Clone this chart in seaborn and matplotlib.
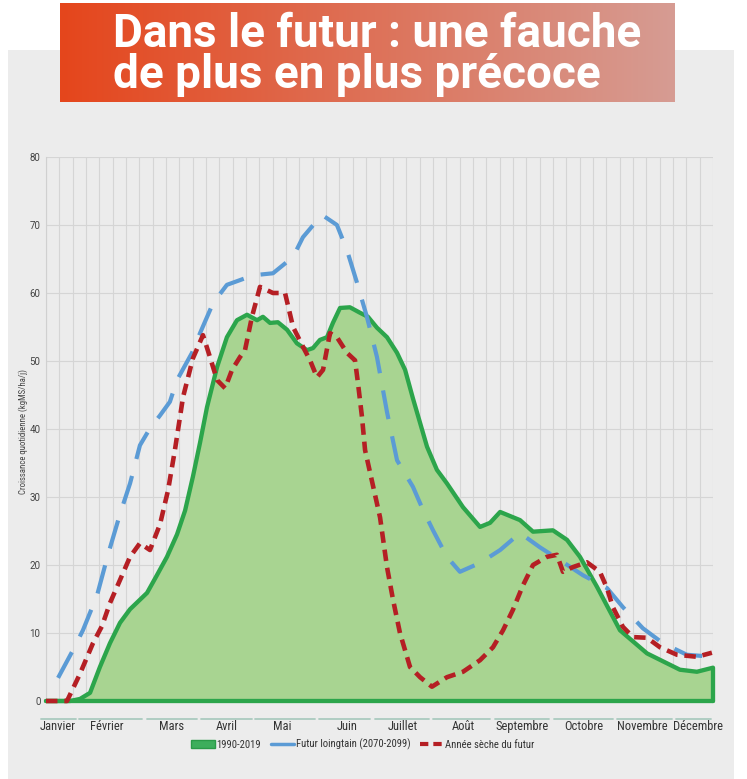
import numpy as np
import pandas as pd
import matplotlib
matplotlib.use("Agg")
import matplotlib.pyplot as plt
import matplotlib.transforms as mtransforms
from matplotlib import font_manager
from matplotlib.lines import Line2D
from matplotlib.patches import Patch, Rectangle
import seaborn as sns

# ---------------- data ----------------
days_1990 = [0, 13.1, 18.6, 24.1, 29.5, 35.0, 40.5, 46.0, 55.3, 60.7, 66.2, 71.7, 76.1, 80.4,
             84.3, 88.1, 93.6, 99.0, 104.5, 110.0, 115.5, 118.7, 122.6, 126.9, 131.9, 137.3,
             142.8, 146.1, 149.9, 153.8, 157.0, 160.9, 166.3, 171.8, 176.2, 181.1, 186.6,
             192.1, 196.5, 200.8, 208.5, 213.9, 219.4, 228.2, 237.5, 243.0, 248.5, 259.4,
             266.5, 277.4, 285.1, 292.2, 301.5, 314.1, 328.9, 346.9, 356.2, 365]
vals_1990 = [0, 0, 0.3, 1.2, 5.0, 8.5, 11.5, 13.5, 15.9, 18.5, 21.2, 24.5, 28, 33,
             38, 43.2, 49.1, 53.5, 56, 56.8, 56, 56.5, 55.6, 55.7, 54.6, 52.6,
             51.6, 51.9, 53.1, 53.5, 55.6, 57.8, 57.9, 57.1, 56.5, 54.9, 53.5,
             51.2, 48.7, 44.5, 37.4, 34, 32, 28.5, 25.6, 26.2, 27.8, 26.6,
             24.9, 25.1, 23.7, 21.2, 16.8, 10.4, 7, 4.6, 4.3, 4.9]

days_futur = [6.6, 14.8, 20.2, 27.9, 33.9, 40.5, 46.0, 51.4, 56.9, 62.4, 67.8, 71.7, 79.9,
              84.3, 91.4, 99.0, 106.2, 113.3, 124.2, 135.2, 140.6, 151.0, 159.2, 164.7,
              170.2, 175.6, 181.1, 186.6, 192.1, 200.8, 206.3, 211.8, 219.4, 226.5, 237.5,
              248.5, 259.4, 270.3, 281.3, 293.8, 307.0, 315.7, 326.6, 337.6, 350.7, 365]
vals_futur = [3.4, 7.5, 10.4, 15.5, 21.5, 27.5, 32, 37.6, 40.1, 42, 44, 47.2, 51.2,
              54.1, 58.5, 61.2, 61.9, 62.6, 62.9, 65.3, 68.2, 71.5, 70, 66.3,
              61.5, 56.5, 50.6, 42.5, 35.4, 31.5, 28.1, 25.1, 21.2, 19, 20.3,
              22.2, 24.7, 22.6, 20.7, 18.5, 16.6, 13.8, 10.7, 8.5, 6.8, 6.5]

days_seche = [0, 11.5, 18.6, 25.7, 30.6, 35.0, 40.5, 46.0, 51.4, 56.9, 62.4, 66.8, 70.6,
              75.0, 80.4, 85.9, 89.7, 93.6, 98.0, 101.8, 106.2, 108.9, 112.7, 117.1,
              124.2, 130.8, 135.2, 140.6, 144.5, 148.3, 151.6, 155.4, 159.2, 164.7,
              169.1, 170.7, 172.9, 174.6, 182.8, 186.6, 189.9, 193.7, 199.2, 204.7,
              211.2, 219.4, 228.2, 237.5, 244.6, 250.1, 255.5, 261.0, 266.5, 274.1,
              279.6, 282.9, 288.4, 296.0, 303.1, 307.0, 310.2, 315.7, 321.2, 328.9,
              336.0, 345.3, 356.2, 364.4]
vals_seche = [0, 0, 4, 8.5, 11, 14.4, 17.8, 21.2, 23.2, 22.2, 26, 31, 37,
              44.7, 50.4, 53.8, 50.6, 47.2, 46, 48.7, 50.6, 51.6, 56.5, 60.9,
              60, 60, 55, 52.1, 50.1, 47.6, 48.7, 54.1, 53.5, 51.2,
              50.1, 46.8, 41.8, 36.9, 27, 19.7, 14.9, 10, 5, 3.5,
              2.1, 3.5, 4.3, 6, 7.9, 10.4, 13.4, 17, 20, 21.2,
              21.5, 19, 19.7, 20.4, 19, 16.6, 13.8, 10.9, 9.4, 9.3,
              7.9, 6.8, 6.5, 7.1]

months = ["Janvier", "Février", "Mars", "Avril", "Mai", "Juin", "Juillet", "Août",
          "Septembre", "Octobre", "Novembre", "Décembre"]
series_labels = ["1990-2019", "Futur loingtain (2070-2099)", "Année sèche du futur"]
title_lines = ["Dans le futur : une fauche", "de plus en plus précoce"]
y_label = "Croissance quotidienne (kgMS/ha/j)"
y_ticks = [0, 10, 20, 30, 40, 50, 60, 70, 80]

# ---------------- layout (positions in day units) ----------------
month_label_x = [6.6, 33.4, 68.9, 99.0, 129.1, 164.7, 195.4, 228.2, 260.5, 294.4, 326.1, 356.7]
month_spans = [(-2.7, 16.4), (18.1, 52.5), (55.3, 82.6), (84.8, 112.7), (114.4, 147.2),
               (149.4, 177.3), (180.0, 209.6), (211.8, 243.0), (245.7, 275.2),
               (278.0, 310.2), (312.4, 342.5), (344.7, 363.9)]

GREEN = "#2ca54b"
GREEN_FILL = "#a8d491"
BLUE = "#5b9bd5"
RED = "#b51f24"
PANEL = "#ececec"

avail = {f.name for f in font_manager.fontManager.ttflist}
def pick(*names):
    for n in names:
        if n in avail:
            return n
    return "DejaVu Sans"
narrow = pick("Liberation Sans Narrow", "DejaVu Sans Condensed", "Roboto Condensed",
              "Open Sans Condensed", "Liberation Sans")
title_font = pick("Roboto", "Liberation Sans", "DejaVu Sans")

sns.set_theme(style="whitegrid")
plt.rcParams['font.family'] = [narrow, 'DejaVu Sans']

W, H = 747, 779
fig = plt.figure(figsize=(W / 100, H / 100), dpi=100)
fig.patch.set_facecolor("white")

# grey panel
fig.add_artist(Rectangle((8 / W, 0), (734 - 8) / W, (H - 50) / H, transform=fig.transFigure,
                         facecolor=PANEL, edgecolor="none", zorder=0))

# title banner with gradient
tax = fig.add_axes([60 / W, 1 - 102 / H, 615 / W, 99 / H])
c1 = np.array([229, 70, 28]) / 255
c2 = np.array([214, 156, 147]) / 255
t = np.linspace(0, 1, 256)
grad = (c1[None, :] * (1 - t[:, None]) + c2[None, :] * t[:, None])[None, :, :]
tax.imshow(grad, aspect="auto", extent=[0, 1, 0, 1])
tax.set_axis_off()
fig.text(113 / W, 1 - 47 / H, title_lines[0], color="white", fontsize=33, fontweight="bold",
         ha="left", va="baseline", family=[title_font, "DejaVu Sans"])
fig.text(113 / W, 1 - 88 / H, title_lines[1], color="white", fontsize=33, fontweight="bold",
         ha="left", va="baseline", family=[title_font, "DejaVu Sans"])

# main axes
ax = fig.add_axes([46 / W, 78 / H, 667 / W, 544 / H])
ax.set_facecolor(PANEL)

gx = days_1990 + [days_1990[-1]]
gy = vals_1990 + [0]
ax.fill_between(days_1990, 0, vals_1990, color=GREEN_FILL, lw=0, zorder=2)
sns.lineplot(x=gx, y=gy, sort=False, estimator=None, ax=ax, color=GREEN, lw=3.1,
             legend=False, zorder=3)
ax.lines[-1].set_clip_on(False)
ax.axhline(0, color=GREEN, lw=3.1, zorder=3, clip_on=False)

sns.lineplot(x=days_futur, y=vals_futur, sort=False, estimator=None, ax=ax, color=BLUE,
             lw=3.0, legend=False, zorder=4)
lb = ax.lines[-1]
lb.set_dashes((7.0, 4.2))
lb.set_clip_on(False)

sns.lineplot(x=days_seche, y=vals_seche, sort=False, estimator=None, ax=ax, color=RED,
             lw=3.3, legend=False, zorder=5)
lr = ax.lines[-1]
lr.set_dashes((2.5, 1.5))
lr.set_clip_on(False)

ax.set_xlim(0, 365)
ax.set_ylim(0, 80)
ax.set_xticks(np.linspace(0, 365, 51))
ax.set_xticklabels([])
ax.set_yticks(y_ticks)
ax.set_yticklabels([str(v) for v in y_ticks], fontsize=7, color="#444444",
                   family=[title_font, "DejaVu Sans"])
ax.tick_params(axis="both", length=0, pad=4)
ax.grid(True, color="#d5d5d5", lw=0.8)
ax.set_axisbelow(True)
for s in ["top", "right", "bottom"]:
    ax.spines[s].set_visible(False)
ax.spines["left"].set_color("#d0d0d0")
ax.spines["left"].set_linewidth(0.8)
ax.set_xlabel("")
ax.set_ylabel("")

blend = mtransforms.blended_transform_factory(ax.transData, ax.transAxes)
for (a, b) in month_spans:
    ax.plot([a, b], [-0.033, -0.033], transform=blend, color="#aacabf", lw=1.3, clip_on=False)
for m, xm in zip(months, month_label_x):
    ax.text(xm, -0.047, m, transform=blend, ha="center", va="center", fontsize=9,
            color="#333333")

fig.text(23 / W, 1 - 431 / H, y_label, rotation=90, ha="center", va="center",
         fontsize=6.3, color="#444444")

handles = [Patch(facecolor="#3dae5c", edgecolor="#2a9a48", lw=1.0),
           Line2D([], [], color=BLUE, lw=2.5),
           Line2D([], [], color=RED, lw=3.0, dashes=(2.0, 1.2))]
ax.legend(handles, series_labels, loc="center", bbox_to_anchor=(0.475, -0.08), ncol=3,
          frameon=False, fontsize=7.7, handlelength=2.2, handletextpad=0.15,
          columnspacing=0.9, labelcolor="#333333")

fig.savefig("out.png", dpi=100, facecolor=fig.get_facecolor())
